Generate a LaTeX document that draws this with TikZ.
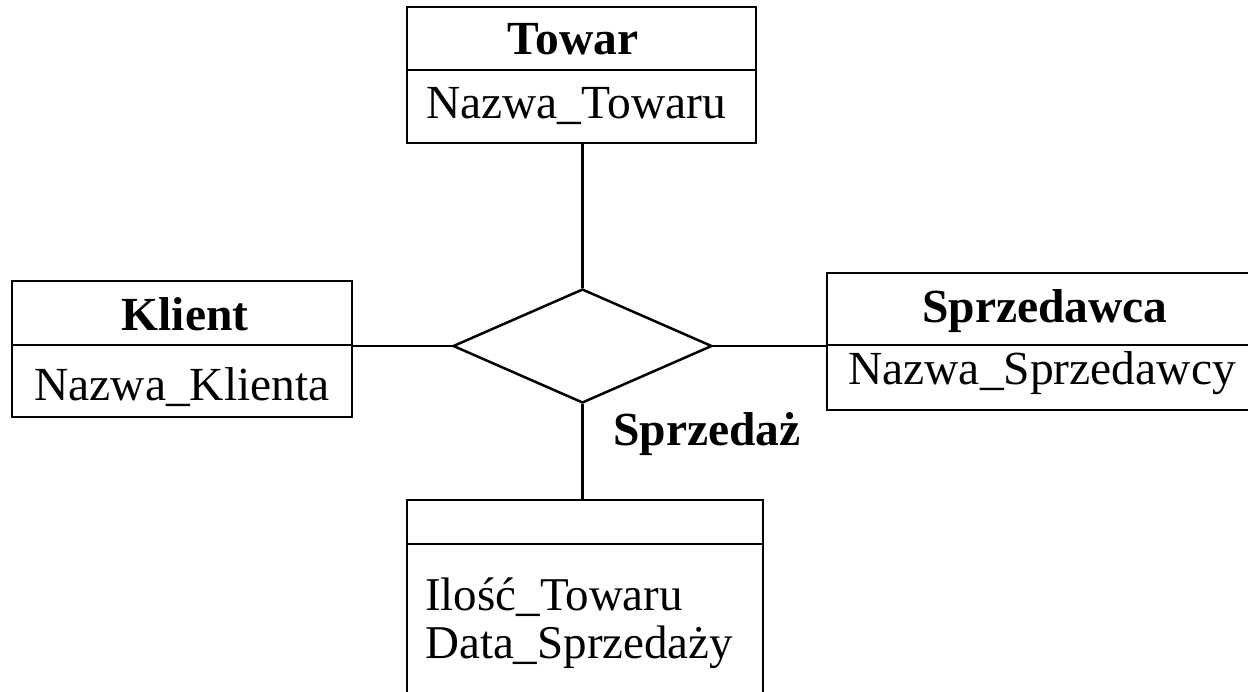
\documentclass[tikz,border=0pt]{standalone}
\usepackage{fontspec}
\setmainfont{Liberation Serif}
\usetikzlibrary{shapes.geometric}
\begin{document}
\begin{tikzpicture}[x=1pt,y=-1pt,
  box/.style={draw,line width=2.7pt,rectangle,inner sep=0pt},
  rel/.style={draw,line width=2.5pt,diamond,inner sep=0pt,minimum width=259pt,minimum height=114pt},
  conn/.style={line width=2.3pt},
  divl/.style={line width=2.7pt},
  ttl/.style={anchor=base,font=\fontsize{47.5}{52}\selectfont\bfseries,inner sep=0pt},
  att/.style={anchor=base,font=\fontsize{47.5}{52}\selectfont,inner sep=0pt},
  atl/.style={anchor=base west,font=\fontsize{47}{52}\selectfont,inner sep=0pt}]
\clip (0,0) rectangle (1248,691);
\fill[white] (0,0) rectangle (1248,691);
% entity boxes
\node[box,minimum width=349pt,minimum height=136pt] (towar) at (581.5,75) {};
\node[box,minimum width=340pt,minimum height=136pt] (klient) at (182,349) {};
\node[box,minimum width=435pt,minimum height=137pt] (sprz) at (1044.5,341.5) {};
\node[box,minimum width=356pt,minimum height=240pt] (rbox) at (585,620) {};
% relationship
\node[rel] (dia) at (582.5,346) {};
% dividers
\coordinate (tdl) at (towar.west |- 0,70);
\coordinate (tdr) at (towar.east |- 0,70);
\draw[divl] (tdl) -- (tdr);
\coordinate (kdl) at (klient.west |- 0,345);
\coordinate (kdr) at (klient.east |- 0,345);
\draw[divl] (kdl) -- (kdr);
\coordinate (sdl) at (sprz.west |- 0,345);
\coordinate (sdr) at (sprz.east |- 0,345);
\draw[divl] (sdl) -- (sdr);
\coordinate (rdl) at (rbox.west |- 0,544);
\coordinate (rdr) at (rbox.east |- 0,544);
\draw[divl] (rdl) -- (rdr);
% connectors
\draw[conn] (dia.north) -- (dia.north |- towar.south);
\draw[conn] (dia.west) -- (dia.west -| klient.east);
\draw[conn] (dia.east) -- (dia.east -| sprz.west);
\draw[conn] (dia.south) -- (dia.south |- rbox.north);
% texts
\node[ttl] (t1) at (573,54) {Towar};
\node[att] (t2) at (576,118) {Nazwa\_Towaru};
\node[ttl] (k1) at (185,330) {Klient};
\node[att] (k2) at (182,400) {Nazwa\_Klienta};
\node[ttl] (s1) at (1045,322) {Sprzedawca};
\node[att] (s2) at (1042,384) {Nazwa\_Sprzedawcy};
\node[ttl,anchor=base west] (rl) at (613,445) {Sprzedaż};
\node[atl] (r1) at (425,610) {Ilość\_Towaru};
\node[atl] (r2) at (425,658) {Data\_Sprzedaży};
\end{tikzpicture}
\end{document}
